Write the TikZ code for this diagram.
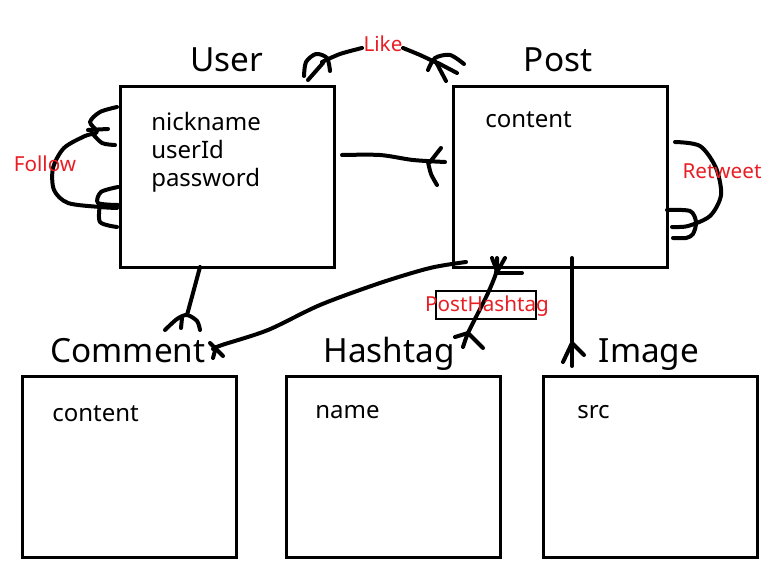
\documentclass[tikz,border=0pt]{standalone}
\usepackage{fontspec}
\setmainfont{Noto Sans}
\definecolor{relred}{RGB}{232,30,37}

\begin{document}
\begin{tikzpicture}[x=0.75pt,y=-0.75pt,
  entity/.style={draw, line width=2.2pt, anchor=north west, inner sep=0pt,
    minimum width=160.5pt, minimum height=135.75pt},
  title/.style={font=\fontsize{25}{30}\selectfont, anchor=base},
  attr/.style={font=\fontsize{18}{22}\selectfont, anchor=base west, inner sep=0pt},
  rel/.style={text=relred, font=\fontsize{15.5}{18}\selectfont, anchor=base, inner sep=0pt},
  pen/.style={line width=3pt, line cap=round, line join=round}]
\useasboundingbox (0,0) rectangle (780,573);

% entities
\node[entity] (user) at (119,85) {};
\node[entity] (post) at (452,85) {};
\node[entity] (comment) at (21,375) {};
\node[entity] (hashtag) at (285,375) {};
\node[entity] (image) at (542,375) {};

\node[title] (usert) at (227,72) {User};
\node[title] (postt) at (558,72) {Post};
\node[title] (commentt) at (128,362) {Comment};
\node[title] (hashtagt) at (389,362) {Hashtag};
\node[title] (imaget) at (649,362) {Image};

\node[attr] (nick) at (151,131) {nickname};
\node[attr] (uid) at (151,159) {userId};
\node[attr] (pw) at (151,187) {password};
\node[attr] (pcontent) at (485,128) {content};
\node[attr] (ccontent) at (52,421) {content};
\node[attr] (hname) at (315,418) {name};
\node[attr] (isrc) at (577,418) {src};

% Like
\draw[pen] plot[smooth] coordinates {(362,48) (340,54) (322,62)};
\draw[pen] plot[smooth] coordinates {(304,76) (306,62) (316,54) (327,58) (330,71)};
\draw[pen] (308,80) -- (323,63);
\draw[pen] plot[smooth] coordinates {(403,48) (420,55) (437,63)};
\draw[pen] plot[smooth] coordinates {(428,70) (435,58) (450,55) (464,64)};
\draw[pen] (436,62) -- (446,81);
\draw[pen] (438,63) -- (457,73);
\node[rel] (like) at (383,52) {Like};

% Follow
\draw[pen] plot[smooth] coordinates {(117,107) (100,112) (90,122) (97,132) (85,136) (64,148) (53,168) (54,190) (68,203) (100,207) (117,208)};
\draw[pen] (88,130) -- (108,129);
\draw[pen] plot[smooth] coordinates {(92,133) (102,143) (115,145)};
\draw[pen] plot[smooth] coordinates {(118,187) (101,192) (98,203) (118,205)};
\draw[pen] plot[smooth] coordinates {(100,204) (100,222) (117,227)};
\node[rel] (follow) at (45,172) {Follow};

% Retweet
\draw[pen] plot[smooth] coordinates {(675,142) (700,146) (716,168) (721,195) (710,216) (688,226) (672,227)};
\draw[pen] plot[smooth] coordinates {(667,210) (690,211) (696,222) (693,234) (686,238) (673,238)};
\node[rel] (retweet) at (722,179) {Retweet};

% User - Post
\draw[pen] plot[smooth] coordinates {(342,155) (380,155) (413,160) (445,162)};
\draw[pen] (430,162) -- (441,148);
\draw[pen] plot[smooth] coordinates {(428,162) (431,174) (437,185)};

% User - Comment
\draw[pen] plot[smooth] coordinates {(200,267) (193,293) (187,315)};
\draw[pen] plot[smooth] coordinates {(165,330) (177,319) (187,315) (197,321) (200,330)};
\draw[pen] (182,318) -- (181,328);

% Post - Comment
\draw[pen] plot[smooth] coordinates {(466,262) (430,268) (380,283) (320,305) (268,330) (222,345) (213,349)};
\draw[pen] (210,343) -- (223,356);
\draw[pen] (216,347) -- (213,358);

% Post - PostHashtag - Hashtag
\draw[pen] plot[smooth] coordinates {(497,258) (496,273) (488,293) (478,313) (468,333) (463,347)};
\draw[pen] (492,258) -- (497,271);
\draw[pen] (505,258) -- (497,272);
\draw[pen] (497,273) -- (522,273);
\draw[pen] (468,333) -- (455,337);
\draw[pen] (468,333) -- (483,348);
\node[draw, line width=2.2pt, minimum width=75pt, minimum height=21pt, inner sep=0pt] (ph) at (486,305) {};
\node[rel] (phl) at (487,311) {PostHashtag};

% Post - Image
\draw[pen] (572,258) -- (572,366);
\draw[pen] (572,343) -- (563,362);
\draw[pen] (572,343) -- (584,355);
\end{tikzpicture}
\end{document}
